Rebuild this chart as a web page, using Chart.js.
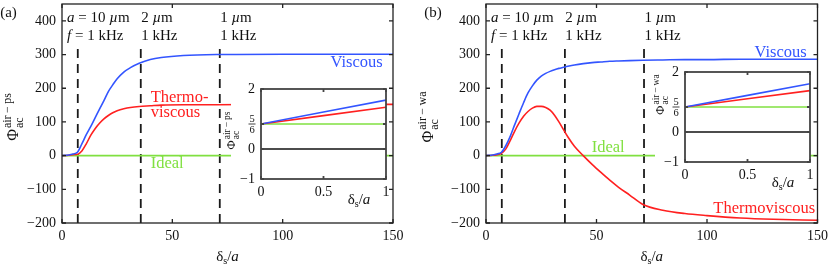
<!DOCTYPE html>
<html>
<head>
<meta charset="utf-8">
<script src="https://cdn.jsdelivr.net/npm/chart.js@4.4.1/dist/chart.umd.min.js"></script>
<style>
html, body { margin: 0; padding: 0; background: #fff; }
#wrap { position: relative; width: 830px; height: 266px; overflow: hidden; }
canvas { position: absolute; top: 0; }
</style>
</head>
<body>
<div id="wrap">
  <canvas id="main-a" width="415" height="266" style="left:0"></canvas>
  <canvas id="inset-a" width="415" height="266" style="left:0"></canvas>
  <canvas id="main-b" width="415" height="266" style="left:415px"></canvas>
  <canvas id="inset-b" width="415" height="266" style="left:415px"></canvas>
</div>
<script>
// Axis ticks
const xTicks = [0, 50, 100, 150];
const yTicks = [-200, -100, 0, 100, 200, 300, 400];
const insetXTicks = [0, 0.5, 1];
const insetYTicks = [-1, 0, 0.833, 2];

// Dashed markers (delta_s/a for a = 10, 2, 1 um at f = 1 kHz)
const markerX = [7.15, 35.7, 71.5];
const markerY = [-200, 322];
const radiusLabels = ['10', '2', '1'];
const freqLabels = ['1', '1', '1'];

// Panel (a): polystyrene particle in air
const deltaA = [0, 3, 5, 7, 9, 11, 13, 15, 17, 19, 21, 23, 25, 28, 31, 35, 40, 45, 55, 70, 100, 150];
const viscousA = [0, 2, 5, 10, 35, 62, 86, 112, 138, 163, 190, 210, 228, 248, 261, 274, 285, 291, 297, 300, 301, 301];
const thermoA = [0, 1, 3, 4, 14, 35, 60, 80, 96, 109, 119, 127, 133, 139, 143, 146, 148, 150, 151, 151, 152, 152];

// Panel (b): water droplet in air
const deltaB = [0, 3, 5, 7, 9, 11, 13, 15, 17, 19, 21, 23, 25, 27, 29, 31, 33, 35, 37, 40, 44, 48, 52, 56, 60, 65, 71, 80, 90, 100, 115, 130, 150];
const viscousB = [0, 2, 5, 10, 30, 58, 92, 125, 157, 186, 207, 224, 236, 244, 250, 255, 259, 262, 265, 269, 273, 276, 278, 280, 281, 282, 283, 284, 285, 285, 286, 286, 286];
const thermoB = [0, 1, 3, 7, 20, 45, 73, 97, 117, 131, 141, 146, 146, 143, 135, 120, 100, 78, 56, 28, 0, -26, -50, -73, -94, -117, -145, -162, -172, -178, -185, -189, -192];

// Ideal case is zero everywhere
const idealX = [0, 150];
const idealY = [0, 0];

// Insets (0 <= delta_s/a <= 1)
const insetX = [0, 1];
const insetViscousA = [0.833, 1.63];
const insetThermoA = [0.833, 1.39];
const insetViscousB = [0.833, 1.61];
const insetThermoB = [0.833, 1.38];
const insetIdeal = [0.833, 0.833];
const insetZero = [0, 0];

const BLUE = '#3355ff';
const RED = '#ff2020';
const GREEN = '#80e040';
const INK = '#111';
const SERIF = '"Liberation Serif", "Times New Roman", serif';

const font = (size, style = '') => `${style} ${size}px ${SERIF}`.trim();
const pts = (xs, ys) => xs.map((x, i) => ({ x, y: ys[i] }));
const minus = v => (v < 0 ? '\u2212' + Math.abs(v) : String(v));

// Draw a run of text pieces: [text, size, style, dy]
const drawRich = (ctx, parts, x, y, align = 'left', color = INK) => {
    let width = 0;
    parts.forEach(([t, size, style = '']) => {
        ctx.font = font(size, style);
        width += ctx.measureText(t).width;
    });
    let cx = align === 'center' ? x - width / 2 : align === 'right' ? x - width : x;
    ctx.fillStyle = color;
    ctx.textAlign = 'left';
    ctx.textBaseline = 'alphabetic';
    parts.forEach(([t, size, style = '', dy = 0]) => {
        ctx.font = font(size, style);
        ctx.fillText(t, cx, y + dy);
        cx += ctx.measureText(t).width;
    });
};

// Rotated Phi_ac^{sup} label centred on (cx, cy)
const drawPhi = (ctx, cx, cy, sup, big, small) => {
    ctx.save();
    ctx.translate(cx, cy);
    ctx.rotate(-Math.PI / 2);
    ctx.font = font(big);
    const pw = ctx.measureText('\u03A6').width;
    ctx.font = font(small);
    const sw = Math.max(ctx.measureText(sup).width, ctx.measureText('ac').width);
    const x0 = -(pw + sw) / 2;
    const base = big * 0.35;
    ctx.fillStyle = INK;
    ctx.textAlign = 'left';
    ctx.textBaseline = 'alphabetic';
    ctx.font = font(big);
    ctx.fillText('\u03A6', x0, base);
    ctx.font = font(small);
    ctx.fillText(sup, x0 + pw + 1, base - big * 0.42);
    ctx.fillText('ac', x0 + pw + 1, base + small * 0.4);
    ctx.restore();
};

const deltaTitle = size => [['\u03B4', size], ['s', size * 0.68, '', 3], ['/', size], ['a', size, 'italic']];

// Box with inward ticks on all four sides
const drawBox = (chart, xt, yt, len, color, width) => {
    const { ctx, chartArea: a, scales: { x, y } } = chart;
    ctx.save();
    ctx.strokeStyle = color;
    ctx.lineWidth = width;
    ctx.strokeRect(a.left, a.top, a.right - a.left, a.bottom - a.top);
    ctx.beginPath();
    xt.forEach(v => {
        const px = x.getPixelForValue(v);
        ctx.moveTo(px, a.bottom); ctx.lineTo(px, a.bottom - len);
        ctx.moveTo(px, a.top); ctx.lineTo(px, a.top + len);
    });
    yt.forEach(v => {
        const py = y.getPixelForValue(v);
        ctx.moveTo(a.left, py); ctx.lineTo(a.left + len, py);
        ctx.moveTo(a.right, py); ctx.lineTo(a.right - len, py);
    });
    ctx.stroke();
    ctx.restore();
};

// Shared scale setup: fixed box size so the chart area lands exactly, no built-in grid
const fixedScale = (min, max, ticks, isX, size, callback, padding) => ({
    type: 'linear',
    min, max,
    afterFit: s => {
        if (isX) s.height = size; else s.width = size;
        s.paddingTop = s.paddingBottom = s.paddingLeft = s.paddingRight = 0;
    },
    afterBuildTicks: s => { s.ticks = ticks.map(v => ({ value: v })); },
    grid: { display: true, drawOnChartArea: false, drawTicks: false },
    border: { display: false },
    ticks: { font: { family: SERIF, size: 14 }, color: INK, padding, maxRotation: 0, autoSkip: false, callback },
});

const lineSet = (data, color, extra = {}) => ({
    data, borderColor: color, borderWidth: 1.6, pointRadius: 0,
    cubicInterpolationMode: 'monotone', fill: false, ...extra,
});

// Main panel chart
const renderMain = (id, cfg) => {
    const decor = {
        id: 'decor',
        afterDraw(chart) {
            const { ctx, chartArea: a, scales: { x, y } } = chart;
            drawBox(chart, xTicks, yTicks, 4, '#222', 1.3);

            // panel letter and axis titles
            drawRich(ctx, [[cfg.letter, 15]], cfg.letterX, 17, 'center');
            drawRich(ctx, deltaTitle(15), (a.left + a.right) / 2, 261, 'center');
            drawPhi(ctx, a.left + cfg.phiDx, 117.5, cfg.sup, 16, 12);

            // size / frequency annotations above the dashed markers
            const annX = [2.3, markerX[1] + 0.2, markerX[2] + 0.2];
            annX.forEach((v, i) => {
                const px = x.getPixelForValue(v);
                const top = i === 0
                    ? [['a', 15, 'italic'], [' = ' + radiusLabels[i] + ' ', 15], ['\u00B5', 15, 'italic'], ['m', 15]]
                    : [[radiusLabels[i] + ' ', 15], ['\u00B5', 15, 'italic'], ['m', 15]];
                const bottom = i === 0
                    ? [['f', 15, 'italic'], [' = ' + freqLabels[i] + ' kHz', 15]]
                    : [[freqLabels[i] + ' kHz', 15]];
                drawRich(ctx, top, px, 22);
                drawRich(ctx, bottom, px, 40);
            });

            // curve labels
            cfg.labels.forEach(l => {
                drawRich(ctx, [[l.text, 16.5]], x.getPixelForValue(l.x), y.getPixelForValue(l.y) + 5, l.align, l.color);
            });
        },
    };

    const dashed = markerX.map(m => lineSet(pts([m, m], markerY), '#1a1a1a', {
        borderWidth: 1.8, borderDash: [9, 6], cubicInterpolationMode: 'default', tension: 0,
    }));

    return new Chart(document.getElementById(id), {
        type: 'line',
        data: {
            datasets: [
                lineSet(pts(cfg.deltas, cfg.viscous), BLUE),
                lineSet(pts(cfg.deltas, cfg.thermo), RED),
                lineSet(pts(idealX, idealY), GREEN),
                ...dashed,
            ],
        },
        options: {
            responsive: false,
            animation: false,
            events: [],
            layout: { autoPadding: false, padding: cfg.padding },
            plugins: { legend: { display: false }, tooltip: { enabled: false } },
            scales: {
                x: fixedScale(0, 150, xTicks, true, 43, v => String(v), 5),
                y: fixedScale(-200, 450, yTicks, false, cfg.yWidth, v => minus(v), 6),
            },
        },
        plugins: [decor],
    });
};

// Inset chart drawn on a transparent overlay canvas
const renderInset = (id, cfg) => {
    const decor = {
        id: 'insetDecor',
        beforeDraw(chart) {
            const { ctx, chartArea: a } = chart;
            ctx.save();
            ctx.fillStyle = '#fff';
            ctx.fillRect(a.left - 30, a.top, a.right - a.left + 30, a.bottom - a.top);
            ctx.restore();
        },
        afterDraw(chart) {
            const { ctx, chartArea: a, scales: { y } } = chart;
            drawBox(chart, insetXTicks, insetYTicks, 3, '#444', 1.8);

            // 5/6 tick label as a stacked fraction
            const py = y.getPixelForValue(insetYTicks[2]);
            const fx = a.left - 9;
            ctx.save();
            ctx.fillStyle = INK;
            ctx.font = font(10.5);
            ctx.textAlign = 'center';
            ctx.textBaseline = 'alphabetic';
            ctx.fillText('5', fx, py - 2);
            ctx.fillText('6', fx, py + 9);
            ctx.strokeStyle = INK;
            ctx.lineWidth = 0.8;
            ctx.beginPath();
            ctx.moveTo(fx - 3.5, py); ctx.lineTo(fx + 3.5, py);
            ctx.stroke();
            ctx.restore();

            drawRich(ctx, deltaTitle(15), a.right - 27, a.bottom + 25, 'center');
            drawPhi(ctx, a.left + cfg.phiDx, a.top + cfg.phiDy, cfg.sup, 12.5, 9.5);
        },
    };

    return new Chart(document.getElementById(id), {
        type: 'line',
        data: {
            datasets: [
                lineSet(pts(insetX, cfg.viscous), BLUE, { tension: 0 }),
                lineSet(pts(insetX, cfg.thermo), RED, { tension: 0 }),
                lineSet(pts(insetX, insetIdeal), GREEN, { tension: 0 }),
                lineSet(pts(insetX, insetZero), '#111', { tension: 0, borderWidth: 1.4 }),
            ],
        },
        options: {
            responsive: false,
            animation: false,
            events: [],
            layout: { autoPadding: false, padding: cfg.padding },
            plugins: { legend: { display: false }, tooltip: { enabled: false } },
            scales: {
                x: fixedScale(0, 1, insetXTicks, true, 30, v => String(v), 5),
                y: fixedScale(-1, 2, insetYTicks, false, 40, v => (v === insetYTicks[2] ? '' : minus(v)), 6),
            },
        },
        plugins: [decor],
    });
};

renderMain('main-a', {
    letter: '(a)', letterX: 8.5, phiDx: -49.5, sup: 'air\u2009\u2212\u2009ps', yWidth: 62,
    padding: { left: 0, top: 4, right: 22, bottom: 0 },
    deltas: deltaA, viscous: viscousA, thermo: thermoA,
    labels: [
        { text: 'Viscous', x: 145.3, y: 278, align: 'right', color: BLUE },
        { text: 'Thermo-', x: 40.2, y: 175, align: 'left', color: RED },
        { text: 'viscous', x: 40.2, y: 130, align: 'left', color: RED },
        { text: 'Ideal', x: 40.2, y: -22, align: 'left', color: GREEN },
    ],
});

renderMain('main-b', {
    letter: '(b)', letterX: 18, phiDx: -58.5, sup: 'air\u2009\u2212\u2009wa', yWidth: 71,
    padding: { left: 0, top: 4, right: 12.5, bottom: 0 },
    deltas: deltaB, viscous: viscousB, thermo: thermoB,
    labels: [
        { text: 'Viscous', x: 145.1, y: 308, align: 'right', color: BLUE },
        { text: 'Ideal', x: 47.8, y: 26, align: 'left', color: GREEN },
        { text: 'Thermoviscous', x: 148.9, y: -155, align: 'right', color: RED },
    ],
});

renderInset('inset-a', {
    sup: 'air\u2009\u2212\u2009ps', phiDx: -30, phiDy: 42,
    padding: { left: 221, top: 89, right: 29, bottom: 57 },
    viscous: insetViscousA, thermo: insetThermoA,
});

renderInset('inset-b', {
    sup: 'air\u2009\u2212\u2009wa', phiDx: -25, phiDy: 23,
    padding: { left: 230, top: 72, right: 20, bottom: 74 },
    viscous: insetViscousB, thermo: insetThermoB,
});
</script>
</body>
</html>
